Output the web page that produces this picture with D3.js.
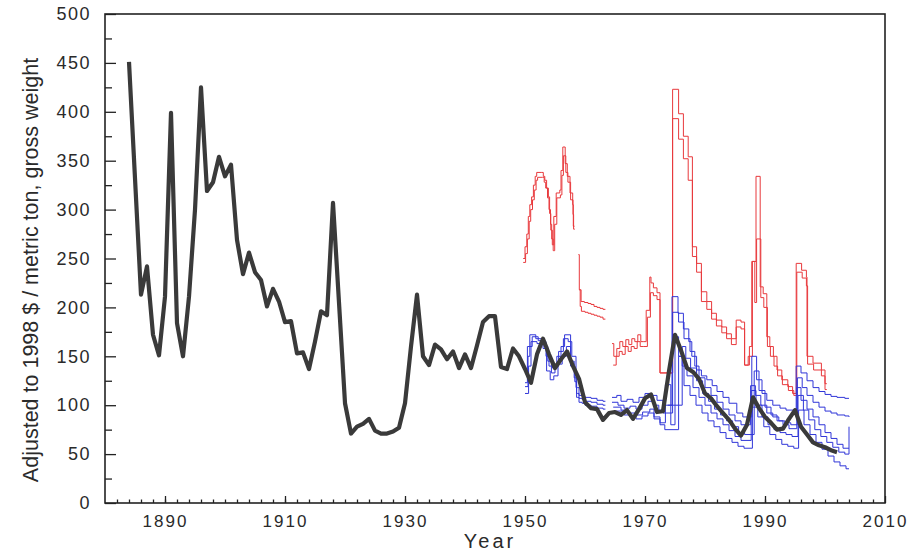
<!DOCTYPE html>
<html>
<head>
<meta charset="utf-8">
<script src="https://cdn.jsdelivr.net/npm/d3@7/dist/d3.min.js"></script>
<style>
  body { margin: 0; background: #fff; }
  svg { display: block; }
  text { font-family: "Liberation Sans", Arial, sans-serif; fill: #2a2a2a; }
</style>
</head>
<body>
<svg id="chart" width="918" height="553"></svg>
<script>
// annual price, 1884-2002
var years = d3.range(1884, 2003);
var price = [451, 332, 213, 242, 172, 151, 211, 399, 184, 150,
	211, 300, 425, 319, 328, 354, 334, 346, 269, 234,
	256, 236, 228, 201, 219, 206, 185, 186, 153, 154,
	137, 165, 196, 192, 307, 205, 102, 71, 78, 81,
	86, 74, 71, 71, 73, 77, 102, 160, 213, 150,
	141, 162, 157, 147, 155, 138, 152, 138, 161, 185,
	191, 191, 139, 137, 158, 150, 137, 123, 152, 168,
	152, 138, 147, 155, 140, 127, 103, 97, 96, 85,
	92, 93, 90, 95, 86, 96, 107, 111, 93, 94,
	135, 172, 156, 138, 134, 127, 112, 107, 99, 92,
	85, 76, 69, 80, 108, 97, 88, 82, 75, 76,
	86, 95, 78, 70, 62, 59, 57, 54, 52];

// red stepped traces [year, value]
var redA1 = [[1949.7,250],[1950.0,262],[1950.3,275],[1950.55,293],[1950.8,305],[1951.1,313],[1951.4,325],[1951.7,334],[1951.95,338],[1952.8,338],[1953.05,334],[1953.3,330],[1953.6,322],[1953.9,313],[1954.1,296],[1954.3,279],[1954.55,264],[1954.8,293],[1955.2,317],[1955.8,320],[1956.0,340],[1956.3,364],[1956.7,347],[1957.05,334],[1957.5,317],[1957.95,305],[1958.05,283],[1958.25,283]];
var redA2 = [[1949.7,246],[1950.1,255],[1950.4,270],[1950.7,288],[1950.95,300],[1951.25,310],[1951.55,320],[1951.85,330],[1952.1,333],[1952.9,333],[1953.2,328],[1953.45,322],[1953.75,312],[1954.0,300],[1954.25,285],[1954.45,270],[1954.7,258],[1954.95,285],[1955.3,312],[1955.9,315],[1956.15,335],[1956.4,355],[1956.8,338],[1957.15,328],[1957.6,310],[1958.0,295],[1958.1,280],[1958.3,280]];
var redB1 = [[1958.9,254],[1959.05,218],[1959.35,206],[1959.9,205],[1960.5,204],[1961.0,203],[1961.5,201],[1962.0,200],[1962.5,199],[1963.0,198],[1963.4,198]];
var redB2 = [[1959.05,218],[1959.2,201],[1959.4,196],[1960.0,195],[1960.5,194],[1961.0,193],[1961.5,192],[1962.0,191],[1962.5,190],[1963.0,188],[1963.4,188]];
var redC1 = [[1964.5,163],[1964.8,150],[1965.3,158],[1965.8,165],[1966.3,160],[1966.8,167],[1967.3,162],[1967.8,168],[1968.3,165],[1968.8,172],[1969.3,165],[1969.8,165],[1970.2,197],[1970.8,231],[1971.0,225],[1971.4,220],[1972.0,215],[1972.5,133],[1974.6,423],[1975.6,398],[1976.4,375],[1977.2,354],[1977.9,262],[1978.6,245],[1979.4,216],[1980.3,206],[1981.1,194],[1981.9,187],[1982.8,180],[1983.6,173],[1984.4,168],[1985.2,187],[1986.0,185],[1986.6,141],[1987.4,160],[1987.8,247],[1988.5,334],[1989.2,221],[1989.7,214],[1990.3,170],[1990.8,160],[1991.4,150],[1992.0,136],[1992.8,126],[1993.8,119],[1994.6,112],[1995.2,245],[1996.1,238],[1996.9,231],[1997.0,150],[1998.0,143],[1999.4,136],[2000.0,122],[2000.3,122]];
var redC2 = [[1964.7,141],[1965.2,150],[1965.7,155],[1966.2,152],[1966.7,160],[1967.2,155],[1967.7,160],[1968.2,158],[1968.7,165],[1969.2,160],[1969.8,160],[1970.4,190],[1970.9,215],[1971.4,212],[1972.0,208],[1972.5,133],[1974.6,393],[1975.6,372],[1976.4,352],[1977.2,330],[1977.9,252],[1978.6,236],[1979.4,206],[1980.3,198],[1981.1,188],[1981.9,181],[1982.8,174],[1983.6,168],[1984.4,162],[1985.2,180],[1986.0,178],[1986.6,141],[1987.2,150],[1987.9,247],[1988.3,205],[1988.6,270],[1989.3,210],[1989.8,200],[1990.4,160],[1990.9,150],[1991.5,140],[1992.1,130],[1992.9,121],[1993.9,115],[1994.8,110],[1995.3,236],[1996.2,230],[1996.9,222],[1997.1,142],[1998.1,136],[1999.4,130],[2000.0,116],[2000.3,116]];

// blue stepped traces [year, value]
var blueA1 = [[1950.0,119],[1950.5,150],[1950.8,172],[1951.8,168],[1952.8,165],[1953.5,150],[1954.0,140],[1954.6,138],[1955.3,150],[1956.0,160],[1956.6,172],[1957.5,172],[1957.6,145],[1958.2,128],[1958.6,112],[1958.8,112]];
var blueA2 = [[1950.0,112],[1950.6,140],[1951.0,165],[1952.0,163],[1953.0,158],[1953.6,135],[1954.2,126],[1954.8,130],[1955.5,142],[1956.2,150],[1956.9,160],[1957.6,140],[1958.3,124],[1958.6,108],[1958.8,108]];
var blueA3 = [[1950.0,123],[1950.4,160],[1951.2,170],[1952.2,166],[1953.2,160],[1953.8,145],[1954.4,133],[1955.0,140],[1955.6,155],[1956.4,168],[1957.2,165],[1957.8,150],[1958.5,118],[1958.8,118]];
var blueB1 = [[1958.8,112],[1959.0,110],[1959.5,109],[1960.0,108],[1961.0,107],[1962.0,105],[1963.0,104],[1963.4,104]];
var blueB2 = [[1958.8,108],[1959.0,107],[1959.5,106],[1960.0,104],[1961.0,103],[1962.0,101],[1963.0,100],[1963.4,100]];
var blueB3 = [[1958.8,118],[1959.0,103],[1959.5,102],[1960.0,100],[1961.0,99],[1962.0,97],[1963.0,96],[1963.4,96]];
var blueC1 = [[1964.5,108],[1965.3,110],[1966.0,104],[1967.0,106],[1968.0,103],[1969.0,108],[1970.0,112],[1971.0,110],[1972.0,105],[1973.0,100],[1974.5,211],[1975.5,194],[1976.4,178],[1977.3,165],[1977.8,150],[1978.6,136],[1979.4,130],[1980.3,126],[1981.2,120],[1982.0,114],[1983.0,108],[1984.0,102],[1985.3,92],[1986.3,88],[1987.8,150],[1988.6,126],[1989.5,112],[1990.3,105],[1991.3,100],[1992.5,97],[1993.5,95],[1995.2,140],[1996.0,133],[1997.0,125],[1998.0,118],[1999.0,114],[2000.0,111],[2001.0,109],[2002.0,108],[2003.3,107],[2004.0,107]];
var blueC2 = [[1964.5,103],[1965.5,100],[1966.5,97],[1967.5,99],[1968.5,96],[1969.5,100],[1970.5,104],[1971.5,100],[1972.3,95],[1973.0,92],[1974.6,195],[1975.6,185],[1976.5,168],[1977.5,155],[1978.3,140],[1979.0,128],[1980.0,118],[1981.0,110],[1982.0,103],[1983.0,96],[1984.0,90],[1985.0,84],[1986.0,80],[1987.6,120],[1988.4,110],[1989.3,100],[1990.3,92],[1991.3,88],[1992.3,84],[1993.3,82],[1994.3,80],[1995.4,128],[1996.2,118],[1997.0,110],[1998.0,103],[1999.0,98],[2000.0,94],[2001.0,92],[2002.0,90],[2003.3,89],[2004.0,88]];
var blueC3 = [[1964.7,98],[1966.0,95],[1967.2,92],[1968.4,90],[1969.6,93],[1970.8,96],[1971.5,88],[1972.5,82],[1973.4,121],[1974.3,80],[1975.0,170],[1975.6,150],[1976.2,140],[1977.0,130],[1978.0,118],[1979.0,108],[1980.0,100],[1981.0,92],[1982.0,86],[1983.0,80],[1984.0,74],[1985.0,68],[1986.0,64],[1987.7,115],[1988.5,100],[1989.5,88],[1990.5,80],[1991.5,75],[1992.5,72],[1993.5,70],[1994.5,68],[1995.5,110],[1996.4,95],[1997.3,85],[1998.3,75],[1999.3,68],[2000.3,62],[2001.3,57],[2002.3,52],[2003.3,50],[2004.0,78]];
var blueC4 = [[1965.0,94],[1966.5,90],[1967.5,88],[1968.5,86],[1969.5,89],[1970.5,92],[1971.5,86],[1972.5,80],[1973.3,75],[1975.6,150],[1976.5,120],[1977.5,110],[1978.5,100],[1979.5,92],[1980.5,84],[1981.5,78],[1982.5,72],[1983.5,66],[1984.5,62],[1985.5,58],[1986.5,56],[1987.9,98],[1988.8,88],[1989.8,78],[1990.8,70],[1991.8,65],[1992.8,60],[1993.8,58],[1994.8,56],[1995.6,95],[1996.5,80],[1997.5,70],[1998.5,62],[1999.5,55],[2000.5,48],[2001.5,42],[2002.5,38],[2003.5,35],[2004.0,35]];
var blueC5 = [[1973.8,100],[1976.2,160],[1976.8,148],[1977.6,138],[1978.6,125],[1979.6,112],[1980.6,104],[1981.6,96],[1982.6,90],[1983.6,84],[1984.6,78],[1985.6,72],[1986.6,70],[1988.2,135],[1989.0,115],[1990.0,98],[1991.0,90],[1992.0,84],[1993.0,80],[1994.0,76],[1995.3,118],[1996.0,105],[1997.0,96],[1998.0,88],[1999.0,80],[2000.0,72],[2001.0,66],[2002.0,60],[2003.0,56],[2004.0,56]];

var redTraces = [redA1, redA2, redB1, redB2, redC1, redC2];
var blueTraces = [blueA1, blueA2, blueA3, blueB1, blueB2, blueB3, blueC1, blueC2, blueC3, blueC4, blueC5];

var xTicks = d3.range(1890, 2011, 20);
var yTicks = d3.range(0, 501, 50);

var svg = d3.select("#chart");
var plotLeft = 105, plotRight = 885, plotTop = 14, plotBottom = 503;

var x = d3.scaleLinear().domain([1880, 2010]).range([plotLeft, plotRight]);
var y = d3.scaleLinear().domain([0, 500]).range([plotBottom, plotTop]);

//colored step lines
var step = d3.line()
	.x(function(d) { return x(d[0]); })
	.y(function(d) { return y(d[1]); })
	.curve(d3.curveStepAfter);

svg.append("g").selectAll("path")
	.data(redTraces)
	.enter()
	.append("path")
	.attr("d", step)
	.attr("fill", "none")
	.attr("stroke", "#e8393c")
	.attr("stroke-width", 1);

svg.append("g").selectAll("path")
	.data(blueTraces)
	.enter()
	.append("path")
	.attr("d", step)
	.attr("fill", "none")
	.attr("stroke", "#3036d8")
	.attr("stroke-width", 1);

//black annual line
var line = d3.line()
	.x(function(d, i) { return x(years[i]); })
	.y(function(d) { return y(d); });

svg.append("path")
	.datum(price)
	.attr("d", line)
	.attr("fill", "none")
	.attr("stroke", "#3a3a3a")
	.attr("stroke-width", 4.2)
	.attr("stroke-linejoin", "round");

//axes
var yMinor = d3.axisLeft(y).tickValues(d3.range(25, 500, 50)).tickSizeInner(-7).tickSizeOuter(0).tickFormat("");
var yMajor = d3.axisLeft(y).tickValues(yTicks).tickSizeInner(-11).tickSizeOuter(0).tickPadding(14);
var xMinor = d3.axisBottom(x).tickValues(d3.range(1882, 2010, 2)).tickSizeInner(-3.5).tickSizeOuter(0).tickFormat("");
var xMajor = d3.axisBottom(x).tickValues(xTicks).tickSizeInner(-7).tickSizeOuter(0).tickPadding(12).tickFormat(d3.format("d"));

svg.append("g").attr("transform", "translate(" + plotLeft + ",0)").call(yMinor);
var gy = svg.append("g").attr("transform", "translate(" + plotLeft + ",0)").call(yMajor);
svg.append("g").attr("transform", "translate(0," + plotBottom + ")").call(xMinor);
var gx = svg.append("g").attr("transform", "translate(0," + plotBottom + ")").call(xMajor);

svg.selectAll(".domain").remove();
svg.selectAll(".tick line").attr("stroke", "#222").attr("stroke-width", 1.3);
gy.selectAll("text").attr("font-size", 18).style("letter-spacing", "1.5px").attr("fill", "#2a2a2a");
gx.selectAll("text").attr("font-size", 17).style("letter-spacing", "2px").attr("fill", "#2a2a2a");

//frame
svg.append("rect")
	.attr("x", plotLeft).attr("y", plotTop)
	.attr("width", plotRight - plotLeft).attr("height", plotBottom - plotTop)
	.attr("fill", "none")
	.attr("stroke", "#222")
	.attr("stroke-width", 1.6);

//titles
svg.append("text")
	.attr("x", 490).attr("y", 548)
	.attr("text-anchor", "middle")
	.attr("font-size", 20)
	.style("letter-spacing", "3px")
	.text("Year");

svg.append("text")
	.attr("transform", "translate(38,270) rotate(-90)")
	.attr("text-anchor", "middle")
	.attr("font-size", 21.5)
	.text("Adjusted to 1998 $ / metric ton, gross weight");
</script>
</body>
</html>
